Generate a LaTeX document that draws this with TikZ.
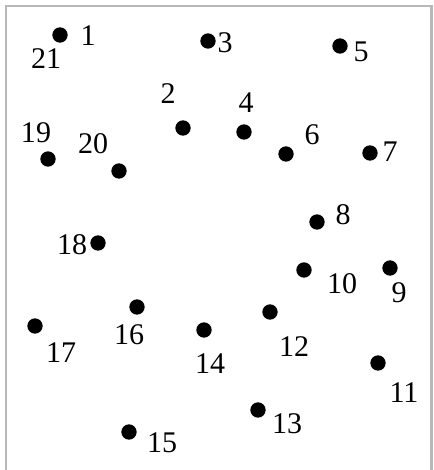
\documentclass[tikz,border=0pt]{standalone}
\usepackage{fontspec}
\setmainfont{Liberation Serif}
\begin{document}
\begin{tikzpicture}[x=0.75pt,y=-0.75pt,
  dot/.style={circle,fill=black,draw=none,minimum size=11.5pt,inner sep=0pt},
  lab/.style={inner sep=0pt,font=\fontsize{22.5}{27}\selectfont},
  frame/.style={draw=black!28,line width=1.6pt}]
\useasboundingbox (0,0) rectangle (433,470);
\coordinate (fa) at (6,470);
\coordinate (fb) at (6,6);
\coordinate (fc) at (431.5,6);
\coordinate (fd) at (431.5,470);
\draw[frame] (fa) -- (fb) -- (fc) -- (fd);
% dots
\node[dot] (d1) at (60,35) {};
\node[dot] (d2) at (183,128) {};
\node[dot] (d3) at (208,41) {};
\node[dot] (d4) at (244,132) {};
\node[dot] (d5) at (340,46) {};
\node[dot] (d6) at (286,154) {};
\node[dot] (d7) at (370,153) {};
\node[dot] (d8) at (317,222) {};
\node[dot] (d9) at (390,268) {};
\node[dot] (d10) at (304,270) {};
\node[dot] (d11) at (378,363) {};
\node[dot] (d12) at (270,312) {};
\node[dot] (d13) at (258,410) {};
\node[dot] (d14) at (204,330) {};
\node[dot] (d15) at (129,432) {};
\node[dot] (d16) at (137,307) {};
\node[dot] (d17) at (35,326) {};
\node[dot] (d18) at (98,243) {};
\node[dot] (d19) at (48,159) {};
\node[dot] (d20) at (119,171) {};
% labels
\node[lab] (l1) at (88,36) {1};
\node[lab] (l21) at (46,59) {21};
\node[lab] (l2) at (168,94) {2};
\node[lab] (l3) at (225,43) {3};
\node[lab] (l4) at (246,103) {4};
\node[lab] (l5) at (361,52) {5};
\node[lab] (l6) at (312,135) {6};
\node[lab] (l7) at (390,152) {7};
\node[lab] (l8) at (343,215) {8};
\node[lab] (l9) at (399,293) {9};
\node[lab] (l10) at (342,284) {10};
\node[lab] (l11) at (404,393) {11};
\node[lab] (l12) at (294,347) {12};
\node[lab] (l13) at (287,424) {13};
\node[lab] (l14) at (210,364) {14};
\node[lab] (l15) at (162,443) {15};
\node[lab] (l16) at (129,335) {16};
\node[lab] (l17) at (61,353) {17};
\node[lab] (l18) at (72,245) {18};
\node[lab] (l19) at (36,133) {19};
\node[lab] (l20) at (93,144) {20};
\end{tikzpicture}
\end{document}
